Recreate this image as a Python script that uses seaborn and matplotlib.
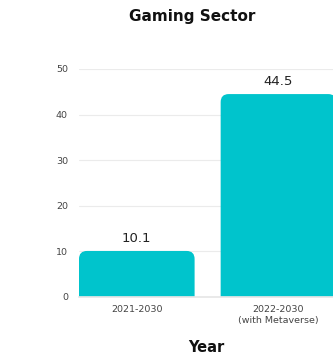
import matplotlib
matplotlib.use("Agg")
import matplotlib.pyplot as plt
from matplotlib.patches import FancyBboxPatch
import seaborn as sns
import pandas as pd

periods = ["2021-2030", "2022-2030\n(with Metaverse)"]
cagr = [10.1, 44.5]
yticks = [0, 10, 20, 30, 40, 50]

BAR_COLOR = "#00C4CC"

sns.set_theme(style="white")
plt.rcParams["font.family"] = ["DejaVu Sans"]

df = pd.DataFrame({"Year": periods, "CAGR": cagr})

fig = plt.figure(figsize=(3.33, 3.54), dpi=100)
ax = fig.add_axes([79 / 333, (354 - 297) / 354, 1 - 79 / 333, (297 - 69) / 354])

sns.barplot(data=df, x="Year", y="CAGR", color=BAR_COLOR, width=0.816,
            saturation=1, ax=ax, zorder=2)

xmin, xmax = -0.408, 1.385
ax.set_xlim(xmin, xmax)
ax.set_ylim(0, 50)

# replace square bars with rounded-top versions
x_per_px = (xmax - xmin) / (333 - 79)
y_per_px = 50 / (297 - 69)
radius = 8 * x_per_px
aspect = y_per_px / x_per_px
for p in list(ax.patches):
    x0, w, h = p.get_x(), p.get_width(), p.get_height()
    extra = radius * aspect
    rb = FancyBboxPatch((x0, -extra), w, h + extra,
                        boxstyle=f"round,pad=0,rounding_size={radius}",
                        mutation_aspect=aspect, facecolor=BAR_COLOR,
                        edgecolor="none", zorder=2)
    p.remove()
    ax.add_patch(rb)

for i, v in enumerate(cagr):
    ax.text(i, v + 2.8, f"{v}", ha="center", va="center", fontsize=9.5,
            color="#222222")

ax.set_yticks(yticks)
ax.yaxis.grid(True, color="#ebebeb", linewidth=0.8, zorder=0)
ax.xaxis.grid(False)
for s in ["top", "right", "left"]:
    ax.spines[s].set_visible(False)
ax.spines["bottom"].set_color("#e6e6e6")
ax.tick_params(axis="both", length=0, labelsize=6.8, colors="#444444")
ax.tick_params(axis="y", pad=8)
ax.tick_params(axis="x", pad=6)

ax.set_xlabel("Year", fontsize=10.5, fontweight="bold", color="#111111", labelpad=11)
ax.set_ylabel("Compound Annual Growth\nRate (CAGR %)", fontsize=9.6,
              fontweight="bold", color="#111111")
ax.yaxis.label.set_transform(fig.transFigure)
ax.yaxis.label.set_position((37 / 333, 0.5))
ax.yaxis.label.set_verticalalignment("center")
fig.text(192 / 333, 1 - 17 / 354, "Gaming Sector", ha="center", va="center",
         fontsize=11, fontweight="bold", color="#111111")

fig.savefig("out.png", dpi=100, facecolor="white")
